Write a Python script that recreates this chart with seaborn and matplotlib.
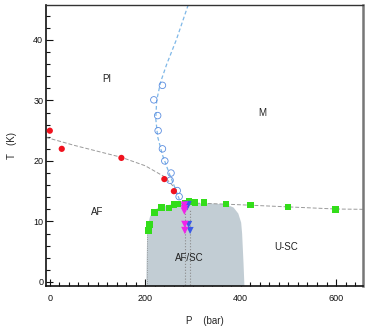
import matplotlib

matplotlib.use("Agg")
import matplotlib.pyplot as plt
import matplotlib.ticker as mticker
import seaborn as sns

# ------------------------------------------------------------------
# data (P in bar, T in K)
# ------------------------------------------------------------------
tn_p = [0, 25, 150, 240, 260]
tn_t = [25.0, 22.0, 20.5, 17.0, 15.0]
tn_fit_p = [-8, 50, 100, 150, 200, 240, 266]
tn_fit_t = [23.9, 22.6, 21.6, 20.6, 19.2, 17.4, 15.2]

pi_p = [236, 218, 226, 227, 236, 241, 254, 252, 267, 271]
pi_t = [32.5, 30.1, 27.5, 25.0, 22.0, 20.0, 18.0, 16.8, 15.1, 14.1]
pi_fit_p = [290, 265, 245, 232, 224, 222, 226, 236, 250, 265, 276]
pi_fit_t = [45.8, 40.0, 36.0, 33.0, 30.0, 27.0, 24.0, 21.0, 18.0, 15.0, 12.7]

tc_p = [207, 209, 219, 234, 250, 260, 268, 283, 292, 304, 323, 369, 421, 499, 599]
tc_t = [8.5, 9.5, 11.5, 12.3, 12.2, 12.8, 12.9, 13.0, 13.3, 13.1, 13.1, 12.9, 12.7, 12.4, 12.0]
tc_fit_p = [270, 320, 400, 500, 600, 656]
tc_fit_t = [12.95, 13.0, 12.75, 12.4, 12.05, 12.0]

mag_p = [282, 282, 282, 283, 283]
mag_t = [12.7, 12.1, 11.7, 9.5, 8.5]
blue_p = [288, 291, 294, 290]
blue_t = [12.4, 9.5, 8.5, 12.8]

# superconducting dome outline
sc_p = [202, 203, 204, 206, 210, 218, 230, 260, 300, 340, 370, 385, 395, 401, 403, 406, 408]
sc_t = [-1.0, 4.0, 7.5, 9.5, 10.8, 11.8, 12.4, 12.9, 13.0, 12.95, 12.8, 12.3, 11.3, 9.8, 8.0, 3.0, -1.0]

labels = ["PI", "M", "AF", "AF/SC", "U-SC"]
label_p = [120, 445, 99, 292, 496]
label_t = [33.5, 27.9, 11.5, 3.9, 5.7]

# ------------------------------------------------------------------
sns.set_theme(style="white")
plt.rcParams["font.family"] = ["Liberation Sans", "DejaVu Sans"]

fig = plt.figure(figsize=(3.71, 3.27), dpi=100)
ax = fig.add_axes([0.124, 0.125, 0.854, 0.86])

ax.fill(sc_p, sc_t, color="#c2cdd4", lw=0, zorder=1)
ax.plot([283, 283], [-1, 12], ls=":", color="#8a8a8a", lw=0.8, zorder=2)
ax.plot([293, 293], [-1, 12], ls=":", color="#8a8a8a", lw=0.8, zorder=2)
ax.plot([203, 203], [-1, 8], ls=":", color="#8a8a8a", lw=0.6, zorder=2)

sns.lineplot(x=tn_fit_p, y=tn_fit_t, ax=ax, color="#9a9a9a", lw=0.7,
             linestyle=(0, (4, 2)), sort=False, estimator=None, zorder=2)
sns.lineplot(x=pi_fit_p, y=pi_fit_t, ax=ax, color="#7fb8e8", lw=0.9,
             linestyle=(0, (3, 2)), sort=False, estimator=None, zorder=2)
sns.lineplot(x=tc_fit_p, y=tc_fit_t, ax=ax, color="#9a9a9a", lw=0.7,
             linestyle=(0, (4, 2)), sort=False, estimator=None, zorder=2)

sns.scatterplot(x=pi_p, y=pi_t, ax=ax, marker="o", s=22, facecolor="none",
                edgecolor="#5a8de0", linewidth=0.6, zorder=3)
sns.scatterplot(x=tn_p, y=tn_t, ax=ax, marker="o", s=20, color="#f0121e",
                edgecolor="none", zorder=4)
sns.scatterplot(x=tc_p, y=tc_t, ax=ax, marker="s", s=22, color="#33dd1a",
                edgecolor="none", zorder=4)
sns.scatterplot(x=blue_p, y=blue_t, ax=ax, marker="v", s=26, color="#3a5ae8",
                edgecolor="none", zorder=5)
sns.scatterplot(x=mag_p, y=mag_t, ax=ax, marker="v", s=28, color="#f024e8",
                edgecolor="none", zorder=6)

for txt, p, t in zip(labels, label_p, label_t):
    ax.text(p, t, txt, ha="center", va="center", fontsize=7, color="#222222")

ax.set_xlim(-8, 656)
ax.set_ylim(-0.7, 45.8)
ax.xaxis.set_major_locator(mticker.FixedLocator([0, 200, 400, 600]))
ax.xaxis.set_minor_locator(mticker.MultipleLocator(20))
ax.yaxis.set_major_locator(mticker.MultipleLocator(10))
ax.yaxis.set_minor_locator(mticker.MultipleLocator(2))
ax.tick_params(axis="both", which="both", direction="in", labelsize=6.5,
               colors="#111111", left=True, bottom=True, width=0.8)
ax.tick_params(which="major", length=5)
ax.tick_params(which="minor", length=3)
ax.tick_params(axis="x", pad=6)
ax.tick_params(axis="y", pad=2)

for side in ["left", "bottom"]:
    ax.spines[side].set_color("#111111")
    ax.spines[side].set_linewidth(1.2)
ax.spines["top"].set_color("#333333")
ax.spines["top"].set_linewidth(1.0)
ax.spines["right"].set_color("#777777")
ax.spines["right"].set_linewidth(1.8)

ax.set_xlabel("P    (bar)", fontsize=7, labelpad=9)
ax.set_ylabel("T   (K)", fontsize=7, labelpad=12)

fig.savefig("out.png", dpi=100)
